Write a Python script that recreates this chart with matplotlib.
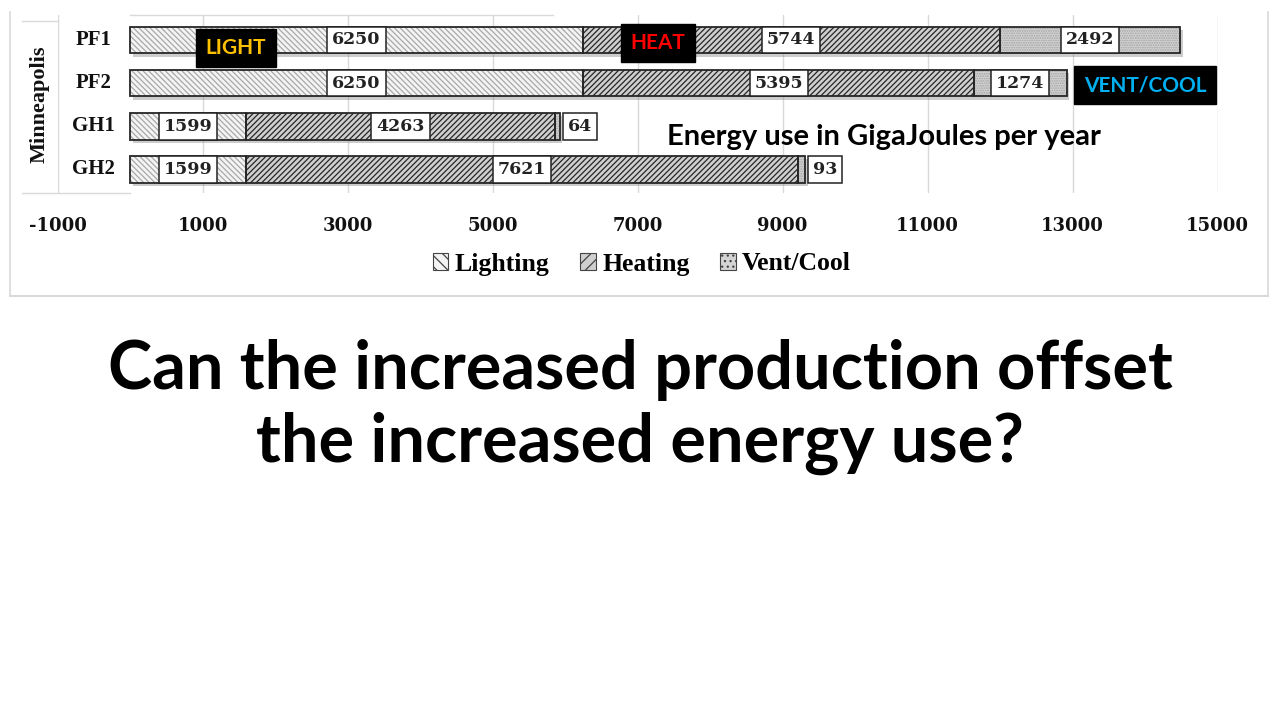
import matplotlib
matplotlib.use('Agg')
import matplotlib.pyplot as plt
import numpy as np
from matplotlib import patheffects as pe
from matplotlib.lines import Line2D
from matplotlib.patches import Patch

# ---- data ----
categories = ['PF1', 'PF2', 'GH1', 'GH2']
group_label = 'Minneapolis'
series_names = ['Lighting', 'Heating', 'Vent/Cool']
lighting = [6250, 6250, 1599, 1599]
heating = [5744, 5395, 4263, 7621]
ventcool = [2492, 1274, 64, 93]
xticks = [-1000, 1000, 3000, 5000, 7000, 9000, 11000, 13000, 15000]

W, H = 1280, 720
plt.rcParams['hatch.linewidth'] = 0.9
fig = plt.figure(figsize=(12.8, 7.2), dpi=100)
fig.patch.set_facecolor('white')

def fx(px):
    return px / W

def fy(py):
    return 1 - py / H

SERIF = 'Liberation Serif'
NUMF = 'DejaVu Serif'
SANS = 'Lato'

ax = fig.add_axes([fx(57.5), fy(193), fx(1217.5) - fx(57.5), fy(15) - fy(193)])

styles = [
    dict(face='#f4f4f4', hcol='#a8a8a8', hatch='\\' * 6),
    dict(face='#cfcfcf', hcol='#262626', hatch='/' * 6),
    dict(face='#d4d4d4', hcol='#a2a2a2', hatch='.' * 7),
]
series = [lighting, heating, ventcool]
y = np.arange(len(categories))
bh = 0.62
totals = np.sum(np.array(series), axis=0)

# soft shadow behind bars
ax.barh(y, totals, height=bh, color='none', linewidth=0, zorder=2,
        path_effects=[pe.SimplePatchShadow(offset=(2, -2.5), shadow_rgbFace='#808080', alpha=0.4)])

left = np.zeros(len(categories))
for vals, st in zip(series, styles):
    vals = np.array(vals, dtype=float)
    ax.barh(y, vals, left=left, height=bh, color=st['face'], edgecolor=st['hcol'],
            hatch=st['hatch'], linewidth=0, zorder=3)
    ax.barh(y, vals, left=left, height=bh, fill=False, edgecolor='#262626',
            linewidth=1.3, zorder=4)
    for i, v in enumerate(vals):
        if v >= 500:
            xpos, ha = left[i] + v / 2, 'center'
        else:
            xpos, ha = left[i] + v + 110, 'left'
        ax.text(xpos, y[i], f'{int(v)}', ha=ha, va='center', fontsize=12.5,
                fontweight='bold', family=NUMF, color='#222222', zorder=6,
                bbox=dict(boxstyle='square,pad=0.28', fc='white', ec='#222222', lw=1.1))
    left = left + vals

ax.set_xlim(-1000, 15000)
ax.set_ylim(3.55, -0.58)
ax.set_xticks(xticks)
ax.set_xticklabels([str(t) for t in xticks], fontsize=13, fontweight='bold', family=NUMF)
ax.set_yticks([])
ax.tick_params(axis='x', length=0, pad=17, colors='#111111')
ax.grid(axis='x', color='#d9d9d9', linewidth=1, zorder=0)
ax.set_axisbelow(True)
for s in ax.spines.values():
    s.set_visible(False)

# category labels inside the -1000..0 band
for i, c in enumerate(categories):
    ax.text(-500, y[i], c, ha='center', va='center', fontsize=15, fontweight='bold',
            family=SERIF, color='#111111')

fig.text(fx(40), fy(104), group_label, rotation=90, ha='center', va='center',
         fontsize=16, fontweight='bold', family=SERIF, color='#111111')

# category table lines & chart border
lc = '#d9d9d9'
fig.add_artist(Line2D([fx(22), fx(130)], [fy(193), fy(193)], color=lc, lw=1))
fig.add_artist(Line2D([fx(22), fx(58)], [fy(21), fy(21)], color=lc, lw=1))
fig.add_artist(Line2D([fx(130), fx(553)], [fy(15), fy(15)], color=lc, lw=1))
fig.add_artist(Line2D([fx(10), fx(10)], [fy(12), fy(296)], color=lc, lw=1.2))
fig.add_artist(Line2D([fx(10), fx(1268)], [fy(296), fy(296)], color=lc, lw=1.5))
fig.add_artist(Line2D([fx(1268), fx(1268)], [fy(12), fy(296)], color=lc, lw=1.2))

# legend
handles = [Patch(facecolor=st['face'], edgecolor=st['hcol'], hatch=st['hatch'][:3], linewidth=0.8)
           for st in styles]
leg = fig.legend(handles, series_names, loc='center', bbox_to_anchor=(fx(642), fy(264)),
                 ncol=3, frameon=False, handlelength=0.6, handleheight=0.6,
                 handletextpad=0.25, columnspacing=1.2,
                 prop=dict(family=SERIF, weight='bold', size=18.5))
for h in leg.legend_handles:
    h.set_edgecolor('#444444')

# callout labels
def callout(px, py, txt, col):
    fig.text(fx(px), fy(py), txt, ha='center', va='center', fontsize=15, family=SANS,
             fontweight='bold', color=col,
             bbox=dict(boxstyle='square,pad=0.45', fc='black', ec='black'))

callout(236, 48, 'LIGHT', '#FFC000')
callout(658, 43, 'HEAT', '#FF0000')
callout(1145, 85, 'VENT/COOL', '#00B0F0')

fig.text(fx(884), fy(137), 'Energy use in GigaJoules per year', ha='center', va='center',
         fontsize=21, fontweight='bold', family=SANS, color='black')

fig.text(0.5, fy(389), 'Can the increased production offset', ha='center', va='baseline',
         fontsize=48, fontweight='bold', family=SANS, color='black')
fig.text(0.5, fy(462), 'the increased energy use?', ha='center', va='baseline',
         fontsize=48, fontweight='bold', family=SANS, color='black')

fig.savefig('out.png', dpi=100, facecolor='white')
